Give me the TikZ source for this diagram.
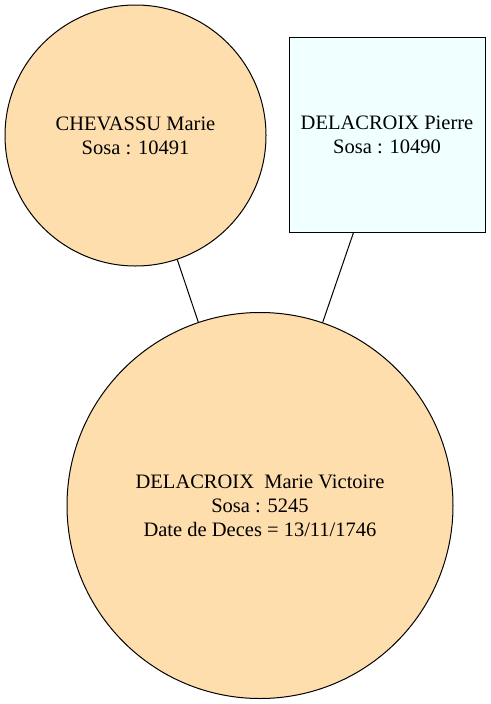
\documentclass[tikz,border=0pt]{standalone}
\usepackage{fontspec}
\setmainfont{Liberation Serif}
\definecolor{navajo}{RGB}{255,222,173}
\definecolor{azurefill}{RGB}{240,255,255}
\begin{document}
\begin{tikzpicture}[x=1pt,y=-1pt,
  person/.style={draw=black, line width=1pt, align=center, inner sep=0pt,
    font=\fontsize{20.5}{24}\selectfont},
  female/.style={person, circle, fill=navajo},
  male/.style={person, rectangle, fill=azurefill},
  link/.style={draw=black, line width=1pt}]
\useasboundingbox (0,0) rectangle (490,704);
\node[female, minimum size=261pt] (mere) at (135.5,135.5)
  {CHEVASSU Marie\\Sosa : 10491\hspace{5pt}};
\node[male, minimum width=196pt, minimum height=195pt] (pere) at (387,134.5)
  {DELACROIX Pierre\\Sosa : 10490\hspace{5pt}};
\node[female, minimum size=386pt] (enfant) at (260,505.5)
  {DELACROIX\ \ Marie Victoire\\Sosa : 5245\\Date de Deces = 13/11/1746\hspace{5pt}};
\draw[link] (mere) -- (enfant);
\draw[link] (pere) -- (enfant);
\end{tikzpicture}
\end{document}
